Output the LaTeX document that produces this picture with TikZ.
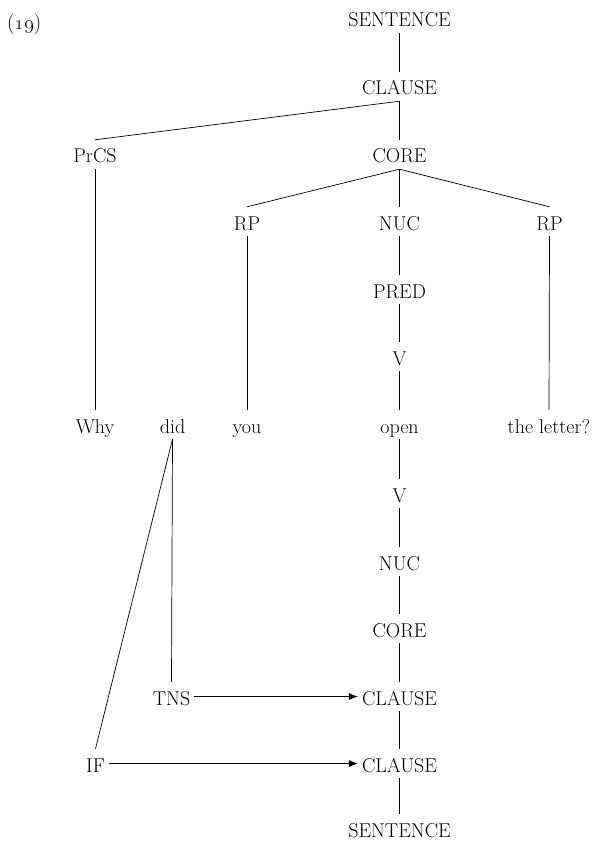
\documentclass[tikz,border=0pt]{standalone}
\usepackage{tikz}
\usetikzlibrary{arrows.meta}

\begin{document}
\begin{tikzpicture}[x=1pt, y=-1pt, >={Latex[length=9pt,width=7pt]},
    lbl/.style={anchor=base, font=\fontsize{20}{24}\selectfont, text height=19pt, text depth=2pt, inner xsep=4pt, inner ysep=4pt},
    edge/.style={line width=0.7pt}]
  \useasboundingbox (0,0) rectangle (596,842);
  % Example number
  \node[anchor=base west, inner sep=0pt, font=\fontsize{21}{25}\selectfont] (num) at (7,30) {(\oldstylenums{19})};

  % Upper tree
  \node[lbl] (s1) at (399.5,27) {SENTENCE};
  \node[lbl] (cl1) at (399.5,95) {CLAUSE};
  \node[lbl] (prcs) at (95,163) {PrCS};
  \node[lbl] (core1) at (399.5,163) {CORE};
  \node[lbl] (rp1) at (247,230) {RP};
  \node[lbl] (nuc1) at (399.5,230) {NUC};
  \node[lbl] (rp2) at (549.5,230) {RP};
  \node[lbl] (pred) at (399.5,298) {PRED};
  \node[lbl] (v1) at (399.5,365) {V};

  % Words
  \node[lbl] (why) at (95,433) {Why};
  \node[lbl] (did) at (172.5,433) {did};
  \node[lbl] (you) at (247,433) {you};
  \node[lbl] (open) at (399.5,433) {open};
  \node[lbl] (letter) at (549,433) {the letter?};

  % Lower tree
  \node[lbl] (v2) at (399.5,502) {V};
  \node[lbl] (nuc2) at (399.5,570) {NUC};
  \node[lbl] (core2) at (399.5,637) {CORE};
  \node[lbl] (tns) at (171.5,705) {TNS};
  \node[lbl] (cl2) at (399.5,705) {CLAUSE};
  \node[lbl] (ifn) at (95.5,772) {IF};
  \node[lbl] (cl3) at (399.5,772) {CLAUSE};
  \node[lbl] (s2) at (399.5,837) {SENTENCE};

  % Branches above the words
  \draw[edge] (s1.south) -- (cl1.north);
  \draw[edge] (cl1.south) -- (prcs.north);
  \draw[edge] (cl1.south) -- (core1.north);
  \draw[edge] (prcs.south) -- (why.north);
  \draw[edge] (core1.south) -- (rp1.north);
  \draw[edge] (core1.south) -- (nuc1.north);
  \draw[edge] (core1.south) -- (rp2.north);
  \draw[edge] (rp1.south) -- (you.north);
  \draw[edge] (rp2.south) -- (letter.north);
  \draw[edge] (nuc1.south) -- (pred.north);
  \draw[edge] (pred.south) -- (v1.north);
  \draw[edge] (v1.south) -- (open.north);

  % Branches below the words
  \draw[edge] (open.south) -- (v2.north);
  \draw[edge] (v2.south) -- (nuc2.north);
  \draw[edge] (nuc2.south) -- (core2.north);
  \draw[edge] (core2.south) -- (cl2.north);
  \draw[edge] (cl2.south) -- (cl3.north);
  \draw[edge] (cl3.south) -- (s2.north);
  \draw[edge] (did.south) -- (tns.north);
  \draw[edge] (did.south) -- (ifn.north);

  % Operators
  \draw[edge, ->] (tns.east) -- (cl2.west);
  \draw[edge, ->] (ifn.east) -- (cl3.west);
\end{tikzpicture}
\end{document}
